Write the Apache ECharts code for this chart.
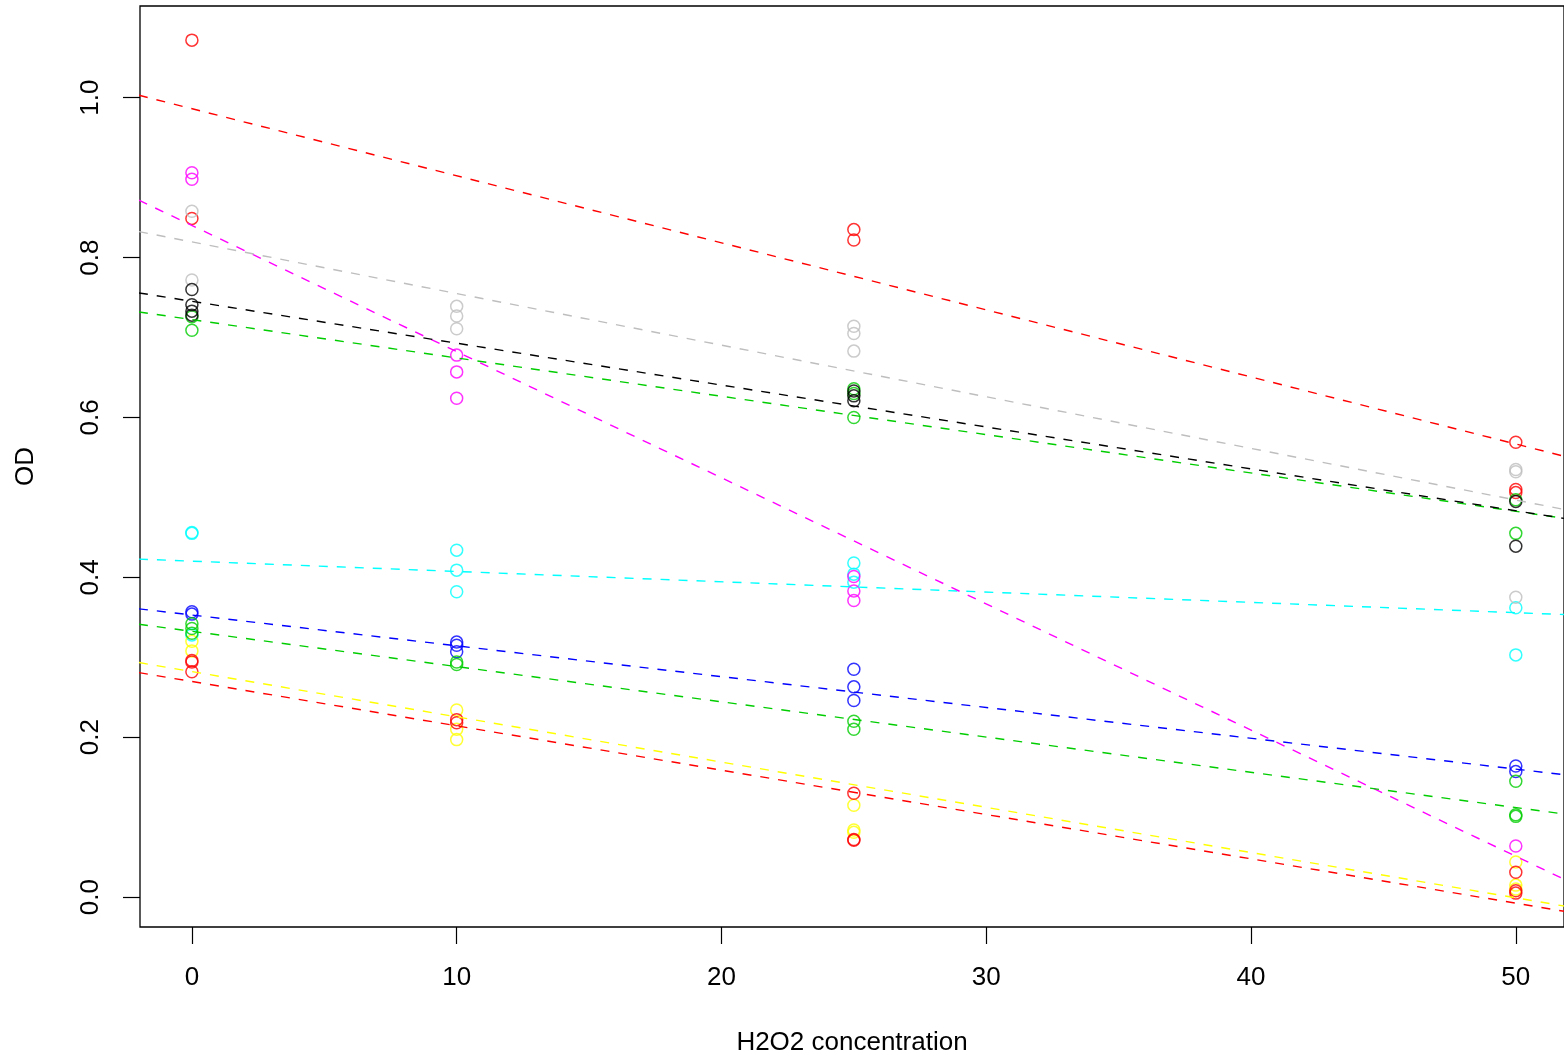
<!DOCTYPE html>
<html>
<head>
<meta charset="utf-8">
<script src="https://cdn.jsdelivr.net/npm/echarts@6/dist/echarts.min.js"></script>
<style>
html,body{margin:0;padding:0;background:#fff;}
#chart{width:1564px;height:1061px;}
</style>
</head>
<body>
<div id="chart"></div>
<script>
// ---- data ----
const xTicks = [0, 10, 20, 30, 40, 50];
const yTicks = [0.0, 0.2, 0.4, 0.6, 0.8, 1.0];
const xAxisTitle = 'H2O2 concentration';
const yAxisTitle = 'OD';

const seriesNames = ['red 1', 'green 1', 'blue', 'cyan', 'magenta', 'yellow', 'gray', 'black', 'red 2', 'green 2'];

const redHigh = [[0,1.072],[0,0.849],[25,0.835],[25,0.822],[50,0.569],[50,0.510],[50,0.506]];
const greenHigh = [[0,0.726],[0,0.709],[25,0.636],[25,0.630],[25,0.600],[50,0.497],[50,0.455]];
const blue = [[0,0.357],[0,0.354],[10,0.319],[10,0.315],[10,0.307],[25,0.285],[25,0.263],[25,0.246],[50,0.164],[50,0.157]];
const cyan = [[0,0.456],[0,0.455],[0,0.328],[10,0.434],[10,0.409],[10,0.382],[25,0.418],[25,0.404],[25,0.394],[50,0.362],[50,0.303]];
const magenta = [[0,0.906],[0,0.898],[10,0.678],[10,0.657],[10,0.624],[25,0.401],[25,0.383],[25,0.371],[50,0.064]];
const yellow = [[0,0.320],[0,0.308],[10,0.234],[10,0.210],[10,0.197],[25,0.115],[25,0.084],[25,0.081],[50,0.044],[50,0.015],[50,0.010]];
const gray = [[0,0.858],[0,0.772],[10,0.739],[10,0.727],[10,0.711],[25,0.714],[25,0.705],[25,0.683],[50,0.535],[50,0.532],[50,0.375]];
const black = [[0,0.760],[0,0.741],[0,0.733],[0,0.728],[25,0.633],[25,0.627],[25,0.621],[50,0.495],[50,0.439]];
const redLow = [[0,0.296],[0,0.294],[0,0.282],[10,0.222],[10,0.218],[25,0.130],[25,0.072],[25,0.071],[50,0.031],[50,0.008],[50,0.005]];
const greenLow = [[0,0.342],[0,0.336],[0,0.330],[10,0.294],[10,0.291],[25,0.220],[25,0.210],[50,0.145],[50,0.103],[50,0.101]];

// fitted dashed lines: value at x = -2 and at x = 52
const fitX = [-2, 52];
const fitStart = [1.003, 0.732, 0.3606, 0.4228, 0.8717, 0.2934, 0.8325, 0.7558, 0.2808, 0.3413];
const fitEnd   = [0.550, 0.473, 0.1524, 0.3532, 0.0195, -0.0122, 0.4838, 0.4728, -0.0187, 0.1032];

// ---- styles ----
const pointSets = [redHigh, greenHigh, blue, cyan, magenta, yellow, gray, black, redLow, greenLow];
const colors = ['#FF0000', '#00CD00', '#0000FF', '#00FFFF', '#FF00FF', '#FFFF00', '#BEBEBE', '#000000', '#FF0000', '#00CD00'];
const FONT = '"Liberation Sans", Arial, Helvetica, sans-serif';

const series = [];
pointSets.forEach((pts, i) => {
  series.push({
    name: seriesNames[i],
    type: 'scatter',
    data: pts,
    symbol: 'circle',
    symbolSize: 12,
    silent: true,
    z: 2,
    itemStyle: { color: 'rgba(0,0,0,0)', borderColor: colors[i], borderWidth: 1.5 }
  });
});
pointSets.forEach((pts, i) => {
  series.push({
    name: seriesNames[i] + ' fit',
    type: 'line',
    data: [[fitX[0], fitStart[i]], [fitX[1], fitEnd[i]]],
    symbol: 'none',
    showSymbol: false,
    silent: true,
    z: 3,
    lineStyle: { color: colors[i], width: 1.4, type: [9, 9] }
  });
});

const chart = echarts.init(document.getElementById('chart'), null, { renderer: 'canvas' });
chart.setOption({
  animation: false,
  backgroundColor: '#ffffff',
  grid: {
    left: 140, top: 6, right: 0, bottom: 131,
    show: true, borderColor: '#000', borderWidth: 1.3, backgroundColor: 'rgba(0,0,0,0)'
  },
  xAxis: {
    type: 'value', min: -1.96, max: 51.82,
    axisLine: { show: false, onZero: false },
    axisTick: { show: true, length: 17, customValues: xTicks, lineStyle: { color: '#000', width: 1.2 } },
    axisLabel: { customValues: xTicks, margin: 38, fontSize: 26, color: '#000', fontFamily: FONT },
    splitLine: { show: false },
    name: xAxisTitle, nameLocation: 'middle', nameGap: 103,
    nameTextStyle: { fontSize: 26, color: '#000', fontFamily: FONT }
  },
  yAxis: {
    type: 'value', min: -0.0374, max: 1.1147,
    axisLine: { show: false, onZero: false },
    axisTick: { show: true, length: 17, customValues: yTicks, lineStyle: { color: '#000', width: 1.2 } },
    axisLabel: { customValues: yTicks, rotate: 90, margin: 36, fontSize: 26, color: '#000', fontFamily: FONT,
      formatter: v => Number(v).toFixed(1) },
    splitLine: { show: false },
    name: yAxisTitle, nameLocation: 'middle', nameGap: 101, nameRotate: 90,
    nameTextStyle: { fontSize: 26, color: '#000', fontFamily: FONT }
  },
  series: series
});
</script>
</body>
</html>
